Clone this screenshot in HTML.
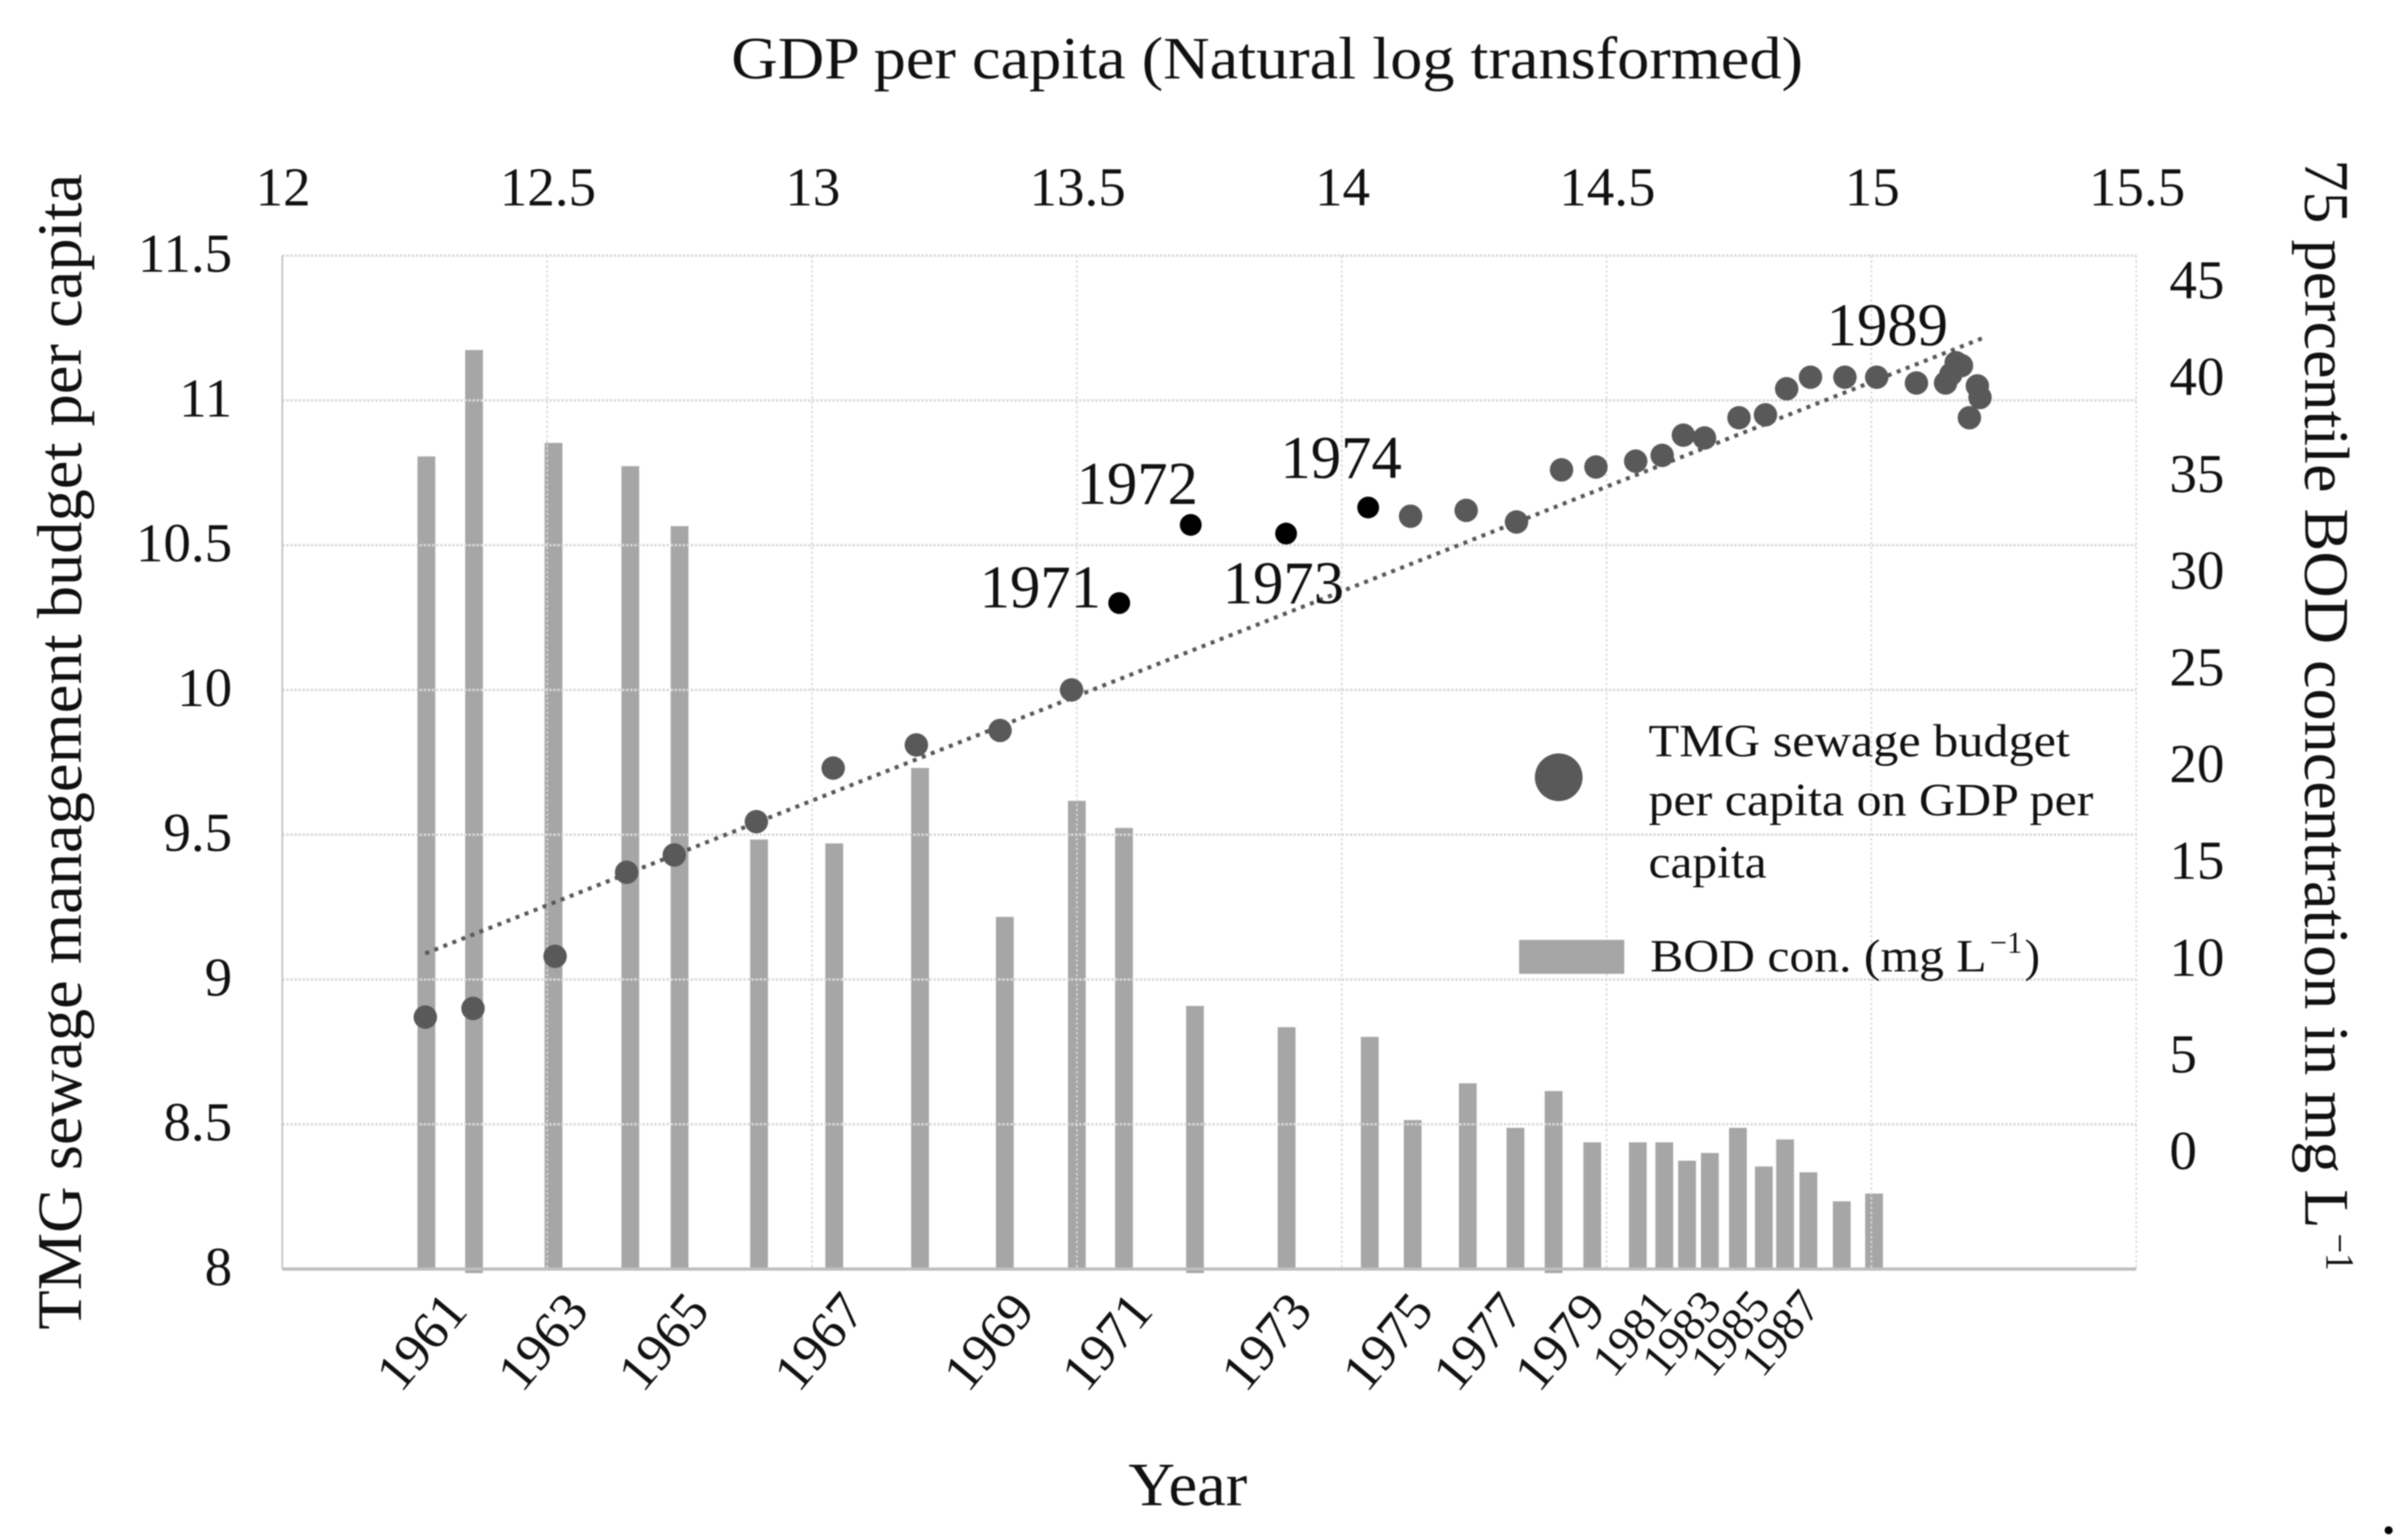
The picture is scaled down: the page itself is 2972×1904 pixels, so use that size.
<!DOCTYPE html>
<html lang="en">
<head>
<meta charset="utf-8">
<title>TMG sewage budget and BOD concentration</title>
<style>
html,body{margin:0;padding:0;background:#fff;width:2972px;height:1904px;overflow:hidden}
svg{display:block;filter:blur(0.8px)}
text{font-family:"Liberation Serif",serif;fill:#111111}
</style>
</head>
<body>
<svg id="chart" xmlns="http://www.w3.org/2000/svg" width="2972" height="1904" viewBox="0 0 2972 1904">
  <rect x="0" y="0" width="2972" height="1904" fill="#ffffff"/>
  <g id="bars"></g>
  <g id="grid"></g>
  <line x1="349" y1="316" x2="349" y2="1569" stroke="#bfbfbf" stroke-width="2"/>
  <line x1="349" y1="1569" x2="2641" y2="1569" stroke="#bfbfbf" stroke-width="4"/>
  <line id="trend" stroke="#595959" stroke-width="5" stroke-dasharray="5 7"/>
  <g id="points"></g>
  <g id="ticks"></g>

  <text x="904" y="97" font-size="74" textLength="1325" lengthAdjust="spacingAndGlyphs">GDP per capita (Natural log transformed)</text>
  <text transform="translate(100 1644) rotate(-90)" font-size="78" textLength="1429" lengthAdjust="spacingAndGlyphs">TMG sewage management budget per capita</text>
  <text transform="translate(2850 197) rotate(90)" font-size="78" textLength="1322" lengthAdjust="spacingAndGlyphs">75 percentile BOD concentration in mg L</text>
  <text transform="translate(2876 1525) rotate(90)" font-size="50" textLength="46" lengthAdjust="spacingAndGlyphs">−1</text>
  <text x="1395" y="1861" font-size="76" textLength="147" lengthAdjust="spacingAndGlyphs">Year</text>

  <g>
    <circle cx="1927" cy="961" r="29.5" fill="#595959"/>
    <text x="2038" y="935" font-size="57" textLength="521" lengthAdjust="spacingAndGlyphs">TMG sewage budget</text>
    <text x="2038" y="1008" font-size="57" textLength="550" lengthAdjust="spacingAndGlyphs">per capita on GDP per</text>
    <text x="2038" y="1085" font-size="57" textLength="146" lengthAdjust="spacingAndGlyphs">capita</text>
    <rect x="1878" y="1162" width="130" height="42" fill="#a6a6a6"/>
    <text x="2040" y="1201" font-size="57" textLength="416" lengthAdjust="spacingAndGlyphs">BOD con. (mg L</text>
    <text x="2460" y="1178" font-size="38" textLength="40" lengthAdjust="spacingAndGlyphs">−1</text>
    <text x="2503" y="1201" font-size="57">)</text>
  </g>
  <circle cx="2953" cy="1892" r="5" fill="#000000"/>
</svg>

<script>
var topTicks = [12, 12.5, 13, 13.5, 14, 14.5, 15, 15.5];
var topTickLabels = ["12", "12.5", "13", "13.5", "14", "14.5", "15", "15.5"];
var leftTicks = [8, 8.5, 9, 9.5, 10, 10.5, 11, 11.5];
var leftTickLabels = ["8", "8.5", "9", "9.5", "10", "10.5", "11", "11.5"];
var rightTicks = [0, 5, 10, 15, 20, 25, 30, 35, 40, 45];

var barYears = [1961,1962,1963,1964,1965,1966,1967,1968,1969,1970,1971,1972,1973,1974,1975,1976,1977,1978,1979,1980,1981,1982,1983,1984,1985,1986,1987,1988,1989];
var barGdp = [12.272,12.362,12.512,12.657,12.750,12.900,13.042,13.204,13.364,13.500,13.589,13.723,13.896,14.053,14.134,14.238,14.328,14.400,14.473,14.559,14.609,14.652,14.695,14.748,14.797,14.837,14.881,14.944,15.005];
var barBod = [36.0,41.5,36.7,35.5,32.4,16.2,16.0,19.9,12.2,18.2,16.8,7.6,6.5,6.0,1.7,3.6,1.3,3.2,0.55,0.55,0.55,-0.4,0,1.3,-0.7,0.7,-1.0,-2.5,-2.1];
var barsPastAxis = [1962, 1972, 1978];

var pointGdp = [12.27,12.36,12.515,12.65,12.74,12.895,13.04,13.197,13.355,13.49,13.58,13.715,13.895,14.05,14.13,14.235,14.33,14.415,14.48,14.555,14.605,14.645,14.685,14.75,14.80,14.84,14.885,14.95,15.01,15.085,15.14,15.15,15.16,15.17,15.20,15.205,15.185];
var pointBudget = [8.87,8.90,9.08,9.37,9.43,9.545,9.73,9.81,9.86,10.0,10.30,10.57,10.54,10.63,10.60,10.62,10.58,10.76,10.77,10.79,10.81,10.88,10.87,10.94,10.95,11.04,11.08,11.08,11.08,11.06,11.06,11.09,11.13,11.12,11.05,11.01,10.94];
var highlightIndexes = [10, 11, 12, 13];

var trendGdp = [12.27, 15.21];
var trendBudget = [9.09, 11.215];

var yearTickLabels = ["1961","1963","1965","1967","1969","1971","1973","1975","1977","1979","1981","1983","1985","1987"];
var yearTickGdp = [12.263,12.492,12.720,13.014,13.334,13.557,13.858,14.087,14.258,14.412,14.547,14.641,14.733,14.828];

var annotationLabels = ["1971","1972","1973","1974","1989"];
var annotationGdp = [13.431,13.614,13.890,13.999,15.030];
var annotationBudget = [10.285,10.642,10.299,10.732,11.19];

var SVGNS = "http://www.w3.org/2000/svg";
var PLOT_LEFT = 349, PLOT_RIGHT = 2641, PLOT_TOP = 316, PLOT_BOTTOM = 1569;

function xScale(v) { return PLOT_LEFT + (v - 12) / 3.5 * (PLOT_RIGHT - PLOT_LEFT); }
function yLeft(v) { return PLOT_BOTTOM - (v - 8) / 3.5 * (PLOT_BOTTOM - PLOT_TOP); }
function yRight(v) { return PLOT_BOTTOM - (v + 6) * 23.92; }

function make(tag, parent) {
  var el = document.createElementNS(SVGNS, tag);
  parent.appendChild(el);
  return el;
}

var barsGroup = document.getElementById("bars");
var gridGroup = document.getElementById("grid");
var pointsGroup = document.getElementById("points");
var ticksGroup = document.getElementById("ticks");

barYears.forEach(function (year, i) {
  var el = make("rect", barsGroup);
  
  
  var top = yRight(barBod[i]);
  var extra = barsPastAxis.indexOf(year) >= 0 ? 5 : 0;
  el.setAttribute("x", xScale(barGdp[i]) - 11);
  el.setAttribute("y", top);
  el.setAttribute("width", 22);
  el.setAttribute("height", PLOT_BOTTOM - top + extra);
  el.setAttribute("fill", "#a6a6a6");
});

leftTicks.forEach(function (v, i) {
  if (v !== 8) {
    var ln = make("line", gridGroup);
    
    
    ln.setAttribute("x1", PLOT_LEFT);
    ln.setAttribute("x2", PLOT_RIGHT);
    ln.setAttribute("y1", yLeft(v));
    ln.setAttribute("y2", yLeft(v));
    ln.setAttribute("stroke", "#d9d9d9");
    ln.setAttribute("stroke-width", 3);
    ln.setAttribute("stroke-dasharray", "3 2");
  }
  var t = make("text", ticksGroup);
  
  
  t.setAttribute("x", 287);
  t.setAttribute("y", yLeft(v) + 20);
  t.setAttribute("text-anchor", "end");
  t.setAttribute("font-size", 68);
  t.textContent = leftTickLabels[i];
});

topTicks.forEach(function (v, i) {
  if (v !== 12) {
    var ln = make("line", gridGroup);
    
    
    ln.setAttribute("x1", xScale(v));
    ln.setAttribute("x2", xScale(v));
    ln.setAttribute("y1", PLOT_TOP);
    ln.setAttribute("y2", PLOT_BOTTOM);
    ln.setAttribute("stroke", "#d9d9d9");
    ln.setAttribute("stroke-width", 2);
    ln.setAttribute("stroke-dasharray", "3 3");
  }
  var t = make("text", ticksGroup);
  
  
  t.setAttribute("x", xScale(v) + 1);
  t.setAttribute("y", 254);
  t.setAttribute("text-anchor", "middle");
  t.setAttribute("font-size", 68);
  t.textContent = topTickLabels[i];
});

rightTicks.forEach(function (v) {
  var t = make("text", ticksGroup);
  
  
  t.setAttribute("x", 2682);
  t.setAttribute("y", yRight(v) + 20);
  t.setAttribute("font-size", 68);
  t.textContent = String(v);
});

yearTickLabels.forEach(function (label, i) {
  var small = Number(label) >= 1981;
  var t = make("text", ticksGroup);
  
  
  t.setAttribute("text-anchor", "middle");
  t.setAttribute("dominant-baseline", "central");
  t.setAttribute("font-size", small ? 58 : 66);
  t.setAttribute("transform", "translate(" + xScale(yearTickGdp[i]) + " " + (small ? 1648 : 1659) + ") rotate(-50)");
  t.textContent = label;
});

var trend = document.getElementById("trend");
trend.setAttribute("x1", xScale(trendGdp[0]));
trend.setAttribute("y1", yLeft(trendBudget[0]));
trend.setAttribute("x2", xScale(trendGdp[1]));
trend.setAttribute("y2", yLeft(trendBudget[1]));

pointGdp.forEach(function (g, i) {
  var c = make("circle", pointsGroup);
  
  
  var hot = highlightIndexes.indexOf(i) >= 0;
  c.setAttribute("cx", xScale(g));
  c.setAttribute("cy", yLeft(pointBudget[i]));
  c.setAttribute("r", hot ? 13.5 : 14.5);
  c.setAttribute("fill", hot ? "#000000" : "#595959");
});

annotationLabels.forEach(function (label, i) {
  var t = make("text", ticksGroup);
  
  
  t.setAttribute("x", xScale(annotationGdp[i]));
  t.setAttribute("y", yLeft(annotationBudget[i]));
  t.setAttribute("text-anchor", "middle");
  t.setAttribute("font-size", 75);
  t.textContent = label;
});
</script>
</body>
</html>
